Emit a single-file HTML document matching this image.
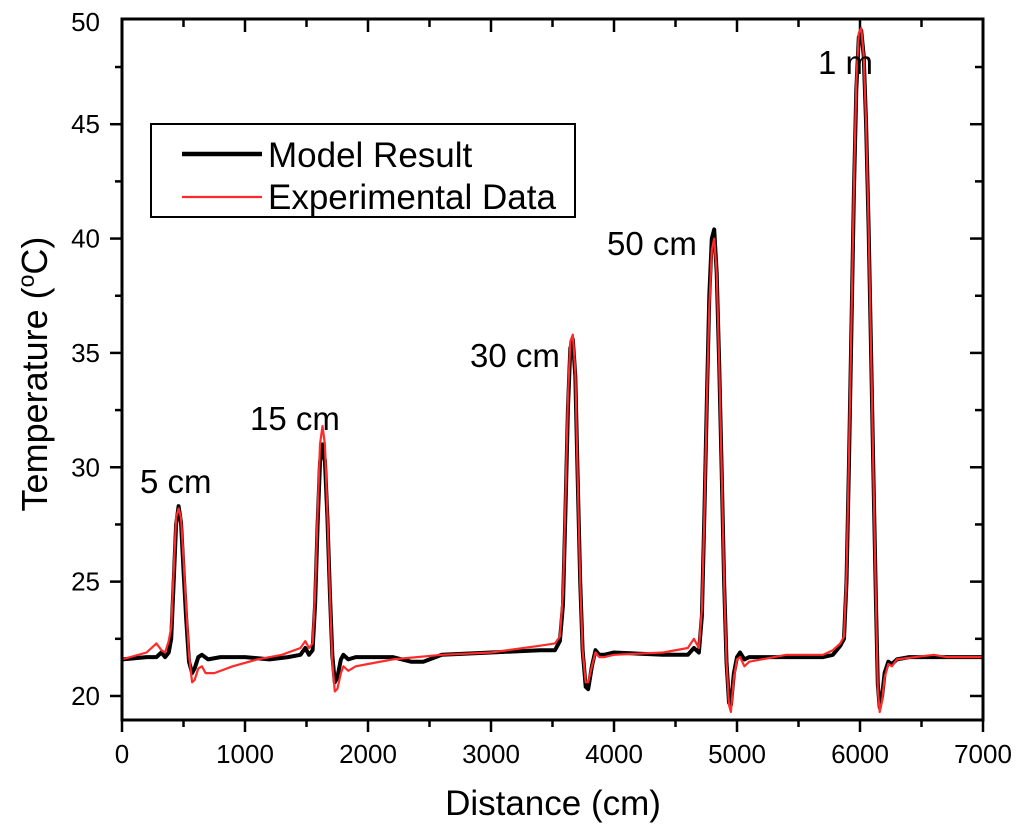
<!DOCTYPE html>
<html><head><meta charset="utf-8"><style>
body{margin:0;background:#fff}
svg{display:block;font-family:"Liberation Sans",Arial,sans-serif}
</style></head><body>
<svg id="c" width="1024" height="835"></svg>
<script>
const xTicks=[0,1000,2000,3000,4000,5000,6000,7000];
const yTicks=[20,25,30,35,40,45,50];
const modelX=[0,200,280,320,350,380,400,420,440,460,480,500,520,545,570,590,620,650,700,800,1000,1200,1350,1450,1490,1520,1550,1570,1590,1610,1630,1650,1670,1690,1710,1730,1750,1780,1800,1840,1900,2000,2200,2350,2450,2600,3000,3400,3520,3560,3585,3605,3625,3645,3665,3685,3705,3725,3745,3770,3790,3820,3850,3880,3920,4000,4400,4600,4650,4690,4715,4735,4755,4775,4795,4815,4835,4855,4875,4895,4915,4935,4950,4975,5000,5025,5060,5100,5400,5700,5780,5840,5870,5890,5910,5930,5950,5970,5990,6010,6030,6050,6070,6090,6110,6130,6145,6160,6180,6200,6230,6260,6300,6400,7000];
const modelY=[21.6,21.7,21.7,21.9,21.7,21.9,22.5,25,27.5,28.3,27.6,25.5,23.5,21.5,21.0,21.2,21.7,21.8,21.6,21.7,21.7,21.6,21.7,21.8,22.1,21.8,22.0,24,27.5,30.2,31.0,30.3,27.8,24.5,21.8,20.6,20.8,21.6,21.8,21.6,21.7,21.7,21.7,21.5,21.5,21.8,21.9,22.0,22.0,22.4,24,28,32.5,35.2,35.6,34.0,29.5,25,22,20.4,20.3,21.3,22.0,21.8,21.8,21.9,21.8,21.8,22.1,21.9,23.5,28,33,37.5,40,40.4,38.5,34.5,30,25,21.5,19.7,19.6,21,21.7,21.9,21.6,21.7,21.7,21.7,21.8,22.2,22.5,25,30,36,42,46.5,48.8,49.1,48,45,40.5,35,29.5,24,20.5,19.5,20,21.0,21.5,21.4,21.6,21.7,21.7];
const expX=[0,200,280,320,350,380,400,420,440,460,480,500,520,545,570,590,620,650,680,750,900,1100,1300,1450,1490,1520,1550,1570,1590,1610,1630,1650,1670,1690,1710,1730,1750,1780,1800,1840,1900,2000,2200,2600,3000,3400,3520,3560,3585,3605,3625,3645,3665,3685,3705,3725,3745,3770,3790,3820,3850,3880,3920,4000,4400,4600,4650,4690,4715,4735,4755,4775,4795,4815,4835,4855,4875,4895,4915,4935,4950,4975,5000,5025,5060,5100,5400,5700,5780,5840,5870,5890,5910,5930,5950,5970,5990,6010,6030,6050,6070,6090,6110,6130,6145,6160,6180,6200,6230,6260,6300,6600,6700,7000];
const expY=[21.6,21.9,22.3,22.0,21.9,22.4,23,25.5,27.8,28.2,27.8,26,24,21.8,20.6,20.7,21.2,21.3,21.0,21.0,21.3,21.6,21.8,22.1,22.4,22.1,22.3,24.5,28,31,31.8,31,28,24.5,21.5,20.2,20.3,21.0,21.3,21.1,21.3,21.4,21.6,21.8,21.9,22.2,22.3,22.6,24.5,28.5,33,35.5,35.8,34.2,29.5,25,22,20.6,20.6,21.3,21.9,21.7,21.7,21.8,21.9,22.1,22.5,22.1,23.8,28,33,37,39.5,40.0,38.5,34.5,30,25,21.5,19.6,19.3,20.8,21.6,21.7,21.3,21.5,21.8,21.8,22.0,22.3,22.6,25.3,30.3,36.3,42.3,46.8,49,49.2,48,45,40.5,35,29.5,24,20.3,19.3,19.8,20.8,21.4,21.3,21.6,21.8,21.7,21.7];
const NS='http://www.w3.org/2000/svg';
const svg=document.getElementById('c');
const L=122,R=983,T=19,B=720,Y0=18.95,Y1=49.6;
const sx=v=>L+(v-0)/7000*(R-L);
const sy=v=>B-(v-Y0)/(Y1-Y0)*(B-T);
function mk(t,a){const e=document.createElementNS(NS,t);for(const k in a)e.setAttribute(k,a[k]);svg.appendChild(e);return e;}
let e;
xTicks.forEach((v,i)=>{
 e=mk('line',{x1:sx(v),x2:sx(v),y1:B,y2:B+12,stroke:'#000','stroke-width':2.5});
 
 e=mk('line',{x1:sx(v),x2:sx(v),y1:T,y2:T+13,stroke:'#000','stroke-width':2.5});
 
 if(i<xTicks.length-1){const m=v+500;
  e=mk('line',{x1:sx(m),x2:sx(m),y1:B,y2:B+7,stroke:'#000','stroke-width':2.5});
  
  e=mk('line',{x1:sx(m),x2:sx(m),y1:T,y2:T+8,stroke:'#000','stroke-width':2.5});
  }
 e=mk('text',{x:sx(v),y:763,'font-size':26,'text-anchor':'middle',fill:'#000'});e.textContent=v;
 
});
yTicks.forEach((v,i)=>{
 if(v<Y1){
 e=mk('line',{x1:L-12,x2:L,y1:sy(v),y2:sy(v),stroke:'#000','stroke-width':2.5});
 
 e=mk('line',{x1:R,x2:R-13,y1:sy(v),y2:sy(v),stroke:'#000','stroke-width':2.5});
 }
 const m=v+2.5; if(m<Y1){
 e=mk('line',{x1:L-7,x2:L,y1:sy(m),y2:sy(m),stroke:'#000','stroke-width':2.5});
 
 e=mk('line',{x1:R,x2:R-8,y1:sy(m),y2:sy(m),stroke:'#000','stroke-width':2.5});
 }
 const yy=Math.max(sy(v),T+3);
 e=mk('text',{x:100,y:yy+9,'font-size':26,'text-anchor':'end',fill:'#000'});e.textContent=v;
 
});
function series(xs,ys,col,w,name){
 const d=xs.map((x,i)=>(i?'L':'M')+sx(x).toFixed(1)+','+sy(ys[i]).toFixed(1)).join('');
 const p=mk('path',{d:d,fill:'none',stroke:col,'stroke-width':w,'stroke-linejoin':'round'});
 
}
series(modelX,modelY,'#000',4,'model-result-line');
series(expX,expY,'#ff2a2a',2.2,'experimental-data-line');
e=mk('rect',{x:L,y:T,width:R-L,height:B-T,fill:'none',stroke:'#000','stroke-width':3});

e=mk('rect',{x:151,y:124,width:424,height:93,fill:'#fff',stroke:'#000','stroke-width':2});

e=mk('line',{x1:182,x2:262,y1:154,y2:154,stroke:'#000','stroke-width':4.5});

e=mk('line',{x1:182,x2:262,y1:197,y2:197,stroke:'#ff2a2a','stroke-width':2.2});

e=mk('text',{x:268,y:167,'font-size':35});e.textContent='Model Result';

e=mk('text',{x:268,y:209,'font-size':35});e.textContent='Experimental Data';

[['1 m',818,74],['50 cm',607,255],['30 cm',470,367],['15 cm',250,430],['5 cm',140,493]].forEach(a=>{
 e=mk('text',{x:a[1],y:a[2],'font-size':33});e.textContent=a[0];
 
});
e=mk('text',{x:553,y:815,'font-size':35,'text-anchor':'middle'});e.textContent='Distance (cm)';

e=mk('text',{x:0,y:0,'font-size':36,'text-anchor':'middle',transform:'translate(47,374) rotate(-90)'});
e.innerHTML='Temperature (<tspan baseline-shift="super" font-size="23">o</tspan>C)';

</script>
</body></html>
